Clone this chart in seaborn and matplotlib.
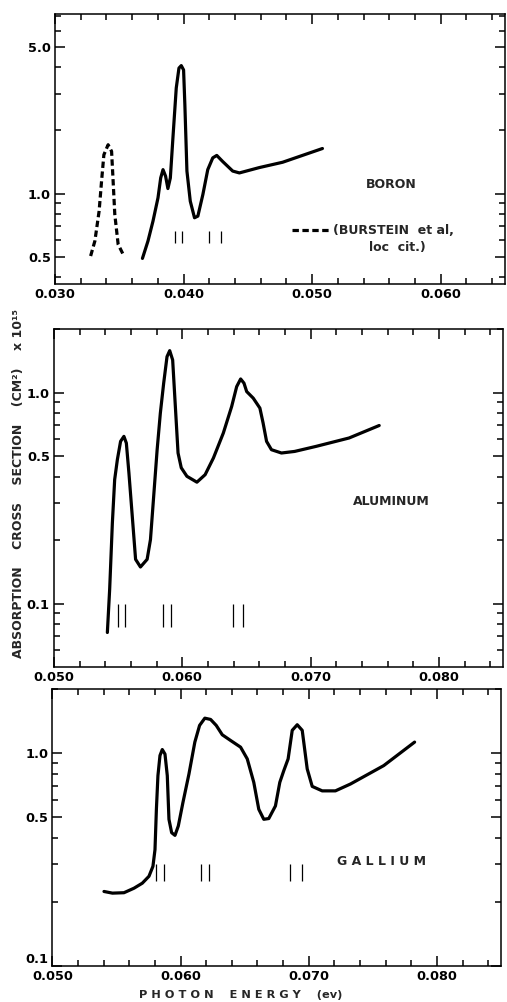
import numpy as np
import pandas as pd
import matplotlib
matplotlib.use("Agg")
import matplotlib.pyplot as plt
import matplotlib.ticker as mticker
import seaborn as sns

# ---------------- DATA ----------------
# Boron (solid) : photon energy (ev), cross section (x1e-15 cm^2)
boron_x = [0.03680, 0.03723, 0.03762, 0.03801, 0.03822, 0.03840, 0.03860, 0.03878,
           0.03897, 0.03917, 0.03943, 0.03964, 0.03982, 0.04000, 0.04010, 0.04026,
           0.04052, 0.04085, 0.04111, 0.04150, 0.04188, 0.04227, 0.04258, 0.04305,
           0.04382, 0.04434, 0.04589, 0.04770, 0.05080]
boron_y = [0.490, 0.593, 0.738, 0.954, 1.187, 1.300, 1.210, 1.056,
           1.187, 1.840, 3.190, 3.970, 4.080, 3.890, 2.650, 1.280,
           0.919, 0.766, 0.780, 0.989, 1.300, 1.480, 1.520, 1.420,
           1.280, 1.254, 1.330, 1.410, 1.640]
# Burstein et al. (dashed)
burst_x = [0.03277, 0.03310, 0.03343, 0.03362, 0.03380, 0.03413, 0.03440, 0.03452,
           0.03465, 0.03491, 0.03530]
burst_y = [0.503, 0.593, 0.824, 1.145, 1.530, 1.710, 1.590, 1.145,
           0.794, 0.572, 0.512]
boron_marks = [0.0393, 0.0399, 0.0420, 0.04292]
boron_mark_range = (0.58, 0.66)

# Aluminum
al_x = [0.05416, 0.05434, 0.05455, 0.05473, 0.05494, 0.05519, 0.05545, 0.05564,
        0.05584, 0.05610, 0.05636, 0.05674, 0.05726, 0.05752, 0.05777, 0.05804,
        0.05829, 0.05855, 0.05881, 0.05902, 0.05925, 0.05946, 0.05967, 0.05992,
        0.06036, 0.06114, 0.06178, 0.06243, 0.06320, 0.06385, 0.06424, 0.06455,
        0.06481, 0.06502, 0.06553, 0.06605, 0.06630, 0.06657, 0.06695, 0.06773,
        0.06876, 0.07044, 0.07300, 0.07535]
al_y = [0.0729, 0.117, 0.241, 0.387, 0.481, 0.587, 0.620, 0.576,
        0.416, 0.260, 0.162, 0.149, 0.162, 0.201, 0.322, 0.536,
        0.799, 1.108, 1.480, 1.580, 1.427, 0.859, 0.517, 0.440,
        0.401, 0.376, 0.408, 0.490, 0.643, 0.859, 1.067, 1.160,
        1.108, 1.011, 0.941, 0.844, 0.717, 0.587, 0.536, 0.517,
        0.526, 0.556, 0.609, 0.698]
al_marks = [0.05502, 0.05553, 0.05847, 0.05915, 0.06398, 0.06470]
al_mark_range = (0.0778, 0.0993)

# Gallium
ga_x = [0.05402, 0.05468, 0.05558, 0.05636, 0.05701, 0.05753, 0.05784, 0.05800,
        0.05811, 0.05823, 0.05839, 0.05857, 0.05878, 0.05896, 0.05909, 0.05930,
        0.05956, 0.05982, 0.06018, 0.06065, 0.06111, 0.06148, 0.06189, 0.06234,
        0.06278, 0.06325, 0.06390, 0.06468, 0.06520, 0.06571, 0.06610, 0.06649,
        0.06688, 0.06740, 0.06774, 0.06805, 0.06839, 0.06871, 0.06910, 0.06949,
        0.06988, 0.07027, 0.07105, 0.07208, 0.07325, 0.07585, 0.07826]
ga_y = [0.224, 0.220, 0.221, 0.232, 0.245, 0.264, 0.294, 0.352,
        0.545, 0.784, 0.975, 1.040, 0.990, 0.784, 0.489, 0.423,
        0.411, 0.455, 0.586, 0.798, 1.127, 1.350, 1.460, 1.440,
        1.350, 1.220, 1.147, 1.067, 0.940, 0.729, 0.545, 0.489,
        0.493, 0.565, 0.729, 0.827, 0.940, 1.280, 1.360, 1.280,
        0.843, 0.698, 0.665, 0.665, 0.716, 0.874, 1.127]
ga_marks = [0.05805, 0.05870, 0.06156, 0.06220, 0.06850, 0.06949]
ga_mark_range = (0.25, 0.30)

x_major_1 = [0.030, 0.040, 0.050, 0.060]
x_major_2 = [0.050, 0.060, 0.070, 0.080]
y_major_1 = [0.5, 1.0, 5.0]
y_minor_1 = [0.4, 0.6, 0.7, 0.8, 0.9, 2.0, 3.0, 4.0, 6.0, 7.0]
y_major_2 = [0.1, 0.5, 1.0]
y_minor_2 = [0.06, 0.07, 0.08, 0.09, 0.2, 0.3, 0.4, 0.6, 0.7, 0.8, 0.9, 2.0]

# ---------------- STYLE ----------------
sns.set_theme(style="ticks")
plt.rcParams['font.family'] = ['DejaVu Sans']
plt.rcParams['axes.linewidth'] = 1.1
FS_TICK = 9.3
FS = 9

fig = plt.figure(figsize=(5.07, 10.02), dpi=100)
ax1 = fig.add_axes([0.1085, 0.7166, 0.8876, 0.2695])
ax2 = fig.add_axes([0.1065, 0.3343, 0.8856, 0.3373])
ax3 = fig.add_axes([0.1035, 0.0359, 0.8846, 0.2764])

LW = 2.3


def style_axis(ax, xlim, ylim, xmaj, ymaj, ymin):
    ax.set_yscale('log')
    ax.set_xlim(*xlim)
    ax.set_ylim(*ylim)
    ax.xaxis.set_major_locator(mticker.FixedLocator(xmaj))
    ax.xaxis.set_minor_locator(mticker.MultipleLocator(0.002))
    ax.xaxis.set_major_formatter(mticker.FormatStrFormatter('%.3f'))
    ax.yaxis.set_major_locator(mticker.FixedLocator(ymaj))
    ax.yaxis.set_minor_locator(mticker.FixedLocator(ymin))
    ax.yaxis.set_major_formatter(mticker.FormatStrFormatter('%.1f'))
    ax.yaxis.set_minor_formatter(mticker.NullFormatter())
    ax.tick_params(which='both', direction='in', top=True, right=True,
                   color='black', labelcolor='black', width=1.1)
    ax.tick_params(which='major', length=7, pad=3, labelsize=FS_TICK)
    ax.tick_params(which='minor', length=4.5)
    for lab in ax.get_xticklabels() + ax.get_yticklabels():
        lab.set_fontweight('bold')
    for s in ax.spines.values():
        s.set_color('black')
        s.set_linewidth(1.1)
    ax.set_xlabel('')
    ax.set_ylabel('')
    ax.grid(False)
    ax.set_facecolor('white')


# Panel 1 : Boron
sns.lineplot(x=boron_x, y=boron_y, sort=False, estimator=None, color='black',
             lw=LW, ax=ax1)
sns.lineplot(x=burst_x, y=burst_y, sort=False, estimator=None, color='black',
             lw=LW, linestyle=(0, (2.0, 1.1)), ax=ax1)
ax1.vlines(boron_marks, *boron_mark_range, color='black', lw=0.9)
style_axis(ax1, (0.030, 0.065), (0.37, 7.2), x_major_1, y_major_1, y_minor_1)
ax1.text(0.05612, 1.10, 'BORON', ha='center', va='center', fontsize=FS,
         fontweight='bold')
ax1.plot([0.04845, 0.05132], [0.669, 0.669], color='black', lw=LW,
         linestyle=(0, (2.0, 1.1)))
ax1.text(0.05160, 0.669, '(BURSTEIN  et al,', ha='left', va='center',
         fontsize=FS, fontweight='bold')
ax1.text(0.05659, 0.553, 'loc  cit.)', ha='center', va='center',
         fontsize=FS, fontweight='bold')

# Panel 2 : Aluminum
sns.lineplot(x=al_x, y=al_y, sort=False, estimator=None, color='black',
             lw=LW, ax=ax2)
ax2.vlines(al_marks, *al_mark_range, color='black', lw=0.9)
style_axis(ax2, (0.050, 0.085), (0.05, 2.0), x_major_2, y_major_2, y_minor_2)
ax2.text(0.07628, 0.305, 'ALUMINUM', ha='center', va='center', fontsize=FS,
         fontweight='bold')

# Panel 3 : Gallium
sns.lineplot(x=ga_x, y=ga_y, sort=False, estimator=None, color='black',
             lw=LW, ax=ax3)
ax3.vlines(ga_marks, *ga_mark_range, color='black', lw=0.9)
style_axis(ax3, (0.050, 0.085), (0.1, 2.0), x_major_2, y_major_2, y_minor_2[4:])
ax3.text(0.07567, 0.31, 'G A L L I U M', ha='center', va='center', fontsize=FS,
         fontweight='bold')
# the "0.1" label sits just above the corner, as in the original
for lab in ax3.get_yticklabels():
    if lab.get_text() == '0.1':
        lab.set_verticalalignment('bottom')

fig.text(19 / 507, 1 - 484 / 1002,
         'ABSORPTION    CROSS    SECTION    (CM\u00b2)    x 10\u00b9\u2075',
         rotation=90, ha='center', va='center', fontsize=FS, fontweight='bold')
fig.text(241 / 507, 1 - 995 / 1002, 'P H O T O N    E N E R G Y    (ev)',
         ha='center', va='center', fontsize=8.2, fontweight='bold')

fig.savefig('out.png', dpi=100, facecolor='white')
